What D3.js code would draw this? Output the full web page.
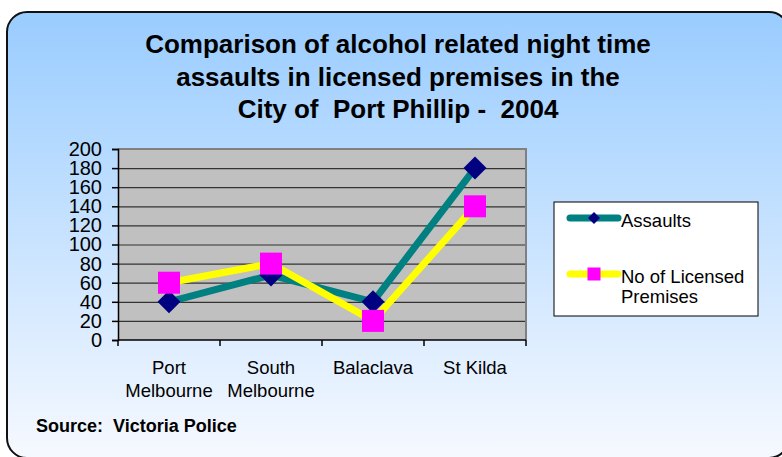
<!DOCTYPE html>
<html>
<head>
<meta charset="utf-8">
<script src="https://cdn.jsdelivr.net/npm/d3@7"></script>
<style>
  html, body { margin: 0; padding: 0; background: #fff; }
  svg { display: block; font-family: Arial, 'Liberation Sans', sans-serif; }
</style>
</head>
<body>
<svg id="chart" width="782" height="457"></svg>
<script>
// chart data
const categories = ['Port Melbourne', 'South Melbourne', 'Balaclava', 'St Kilda'];
const categoryLabels = [['Port', 'Melbourne'], ['South', 'Melbourne'], ['Balaclava'], ['St Kilda']];
const assaults = [40, 68, 40, 180];
const licensedPremises = [60, 80, 20, 140];
const yTicks = [0, 20, 40, 60, 80, 100, 120, 140, 160, 180, 200];
const titleLines = ['Comparison of alcohol related night time', 'assaults in licensed premises in the', 'City of  Port Phillip -  2004'];

const margin = { left: 118, top: 149, right: 526, bottom: 340 };
const svg = d3.select('#chart');

// background gradient
const defs = svg.append('defs');
const grad = defs.append('linearGradient')
    .attr('id', 'bg')
    .attr('x1', 0).attr('y1', 0).attr('x2', 0).attr('y2', 1);
grad.append('stop').attr('offset', '0%').attr('stop-color', '#99ccff');
grad.append('stop').attr('offset', '100%').attr('stop-color', '#f6f9ff');

svg.append('rect')
    .attr('x', 7).attr('y', 12)
    .attr('width', 782).attr('height', 446)
    .attr('rx', 20).attr('ry', 20)
    .attr('fill', 'url(#bg)')
    .attr('stroke', '#111')
    .attr('stroke-width', 2);

// title
svg.append('g')
    .selectAll('text')
    .data(titleLines)
    .join('text')
    .attr('x', 398)
    .attr('y', (d, i) => 53 + i * 32.5)
    .attr('text-anchor', 'middle')
    .attr('font-size', '26px')
    .attr('font-weight', 'bold')
    .style('white-space', 'pre')
    .text((d) => d);

// scales
const xScale = d3.scaleBand()
    .domain(categories)
    .range([margin.left, margin.right])
    .padding(0);
const cx = (c) => xScale(c) + xScale.bandwidth() / 2;

const yScale = d3.scaleLinear()
    .domain([0, 200])
    .range([margin.bottom, margin.top]);

// plot area
svg.append('rect')
    .attr('x', margin.left).attr('y', margin.top)
    .attr('width', margin.right - margin.left)
    .attr('height', margin.bottom - margin.top)
    .attr('fill', '#c0c0c0');

// grid lines
const grid = svg.append('g')
    .attr('transform', `translate(${margin.left},0)`)
    .call(d3.axisLeft(yScale)
        .tickValues(yTicks.filter((t) => t > 0 && t < 200))
        .tickSize(-(margin.right - margin.left))
        .tickFormat(''));
grid.select('.domain').remove();
grid.selectAll('line').attr('stroke', '#333').attr('stroke-width', 1.2);

// plot border top/right
svg.append('path')
    .attr('d', `M${margin.left},${margin.top}H${margin.right}V${margin.bottom}`)
    .attr('fill', 'none')
    .attr('stroke', '#808080')
    .attr('stroke-width', 2);

// y axis
const yAxisGroup = svg.append('g')
    .attr('transform', `translate(${margin.left},0)`)
    .call(d3.axisLeft(yScale).tickValues(yTicks).tickSize(6).tickPadding(10));
yAxisGroup.select('.domain').attr('stroke', '#000').attr('stroke-width', 1.5);
yAxisGroup.selectAll('line').attr('stroke', '#000').attr('stroke-width', 1.5);
yAxisGroup.selectAll('text')
    .attr('font-size', '20px')
    .attr('font-family', 'Arial, Liberation Sans, sans-serif')
    .attr('fill', '#000');

// x axis (ticks on category boundaries)
const xAxisGroup = svg.append('g');
xAxisGroup.append('line')
    .attr('x1', margin.left).attr('x2', margin.right)
    .attr('y1', margin.bottom).attr('y2', margin.bottom)
    .attr('stroke', '#000').attr('stroke-width', 1.5);
const boundaries = categories.map((c) => xScale(c)).concat([xScale.range()[1]]);
xAxisGroup.selectAll('.xtick')
    .data(boundaries)
    .join('line')
    .attr('class', 'xtick')
    .attr('x1', (d) => d).attr('x2', (d) => d)
    .attr('y1', margin.bottom).attr('y2', margin.bottom + 6)
    .attr('stroke', '#000').attr('stroke-width', 1.5);
xAxisGroup.selectAll('.xlabel')
    .data(categories)
    .join('text')
    .attr('class', 'xlabel')
    .attr('text-anchor', 'middle')
    .attr('font-size', '18.5px')
    .each(function (c, i) {
        d3.select(this).selectAll('tspan')
            .data(categoryLabels[i])
            .join('tspan')
            .attr('x', cx(c))
            .attr('y', (d, j) => 374 + j * 23)
            .text((d) => d);
    });

// series
const line = d3.line()
    .x((d, i) => cx(categories[i]))
    .y((d) => yScale(d));

const series = [
    { name: 'Assaults', values: assaults, stroke: '#008080', marker: '#000080', shape: 'diamond' },
    { name: 'No of Licensed Premises', values: licensedPremises, stroke: '#ffff00', marker: '#ff00ff', shape: 'square' },
];

const markerPath = (shape, big) => {
    if (shape === 'diamond') return d3.symbol(d3.symbolSquare, big ? 265 : 72)();
    return d3.symbol(d3.symbolSquare, big ? 484 : 169)();
};

series.forEach((s) => {
    svg.append('path')
        .attr('d', line(s.values))
        .attr('fill', 'none')
        .attr('stroke', s.stroke)
        .attr('stroke-width', 7);
    svg.append('g')
        .selectAll('path')
        .data(s.values)
        .join('path')
        .attr('d', markerPath(s.shape, true))
        .attr('transform', (d, i) => `translate(${cx(categories[i])},${yScale(d)})${s.shape === 'diamond' ? ' rotate(45)' : ''}`)
        .attr('fill', s.marker);
});

// legend
const legend = svg.append('g');
legend.append('rect')
    .attr('x', 554).attr('y', 202)
    .attr('width', 204).attr('height', 114)
    .attr('fill', '#fff')
    .attr('stroke', '#000')
    .attr('stroke-width', 1);

const legendRows = [
    { s: series[0], y: 218, lines: ['Assaults'] },
    { s: series[1], y: 274, lines: ['No of Licensed', 'Premises'] },
];
legendRows.forEach((r) => {
    legend.append('line')
        .attr('x1', 570).attr('x2', 618)
        .attr('y1', r.y).attr('y2', r.y)
        .attr('stroke', r.s.stroke)
        .attr('stroke-width', 7)
        .attr('stroke-linecap', 'round');
    legend.append('path')
        .attr('d', markerPath(r.s.shape, false))
        .attr('transform', `translate(594,${r.y})${r.s.shape === 'diamond' ? ' rotate(45)' : ''}`)
        .attr('fill', r.s.marker);
    legend.append('text')
        .attr('font-size', '18.5px')
        .selectAll('tspan')
        .data(r.lines)
        .join('tspan')
        .attr('x', 621)
        .attr('y', (d, j) => r.y + 9 + j * 20)
        .text((d) => d);
});

// source note
svg.append('text')
    .attr('x', 36).attr('y', 432)
    .attr('font-size', '18px')
    .attr('font-weight', 'bold')
    .style('white-space', 'pre')
    .text('Source:  Victoria Police');
</script>
</body>
</html>
